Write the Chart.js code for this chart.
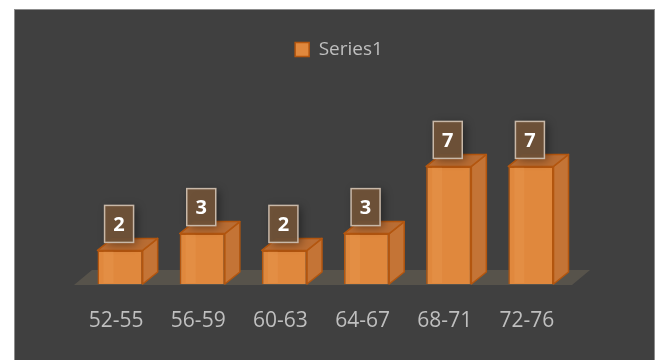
<!DOCTYPE html>
<html><head><meta charset="utf-8">
<script src="https://cdn.jsdelivr.net/npm/chart.js@4.4.1/dist/chart.umd.min.js"></script>
<style>
html,body{margin:0;padding:0;background:#fff;width:660px;height:360px;overflow:hidden;}
#bg{position:absolute;left:14px;top:9px;width:641px;height:360px;background:#404040;border:1px solid #8c8c8c;box-sizing:border-box;}
#wrap{position:absolute;left:0;top:0;width:660px;height:360px;}
</style></head><body>
<div id="bg"></div>
<div id="wrap"><canvas id="c" width="660" height="360"></canvas></div>
<script>
const categories = ['52-55','56-59','60-63','64-67','68-71','72-76'];
const seriesName = 'Series1';
const values = [2, 3, 2, 3, 7, 7];

const FONT = '"Open Sans", "DejaVu Sans", sans-serif';
const FRONT = '#e0883d';
const SIDE = '#c47436';
const TOP = '#b96d34';
const EDGE = '#b3560f';
const DX = 15, DY = 12;

const bar3d = {
  id: 'bar3d',
  beforeDatasetsDraw(chart) {
    const xs = chart.scales.x, ys = chart.scales.y;
    const base = ys.getPixelForValue(0) + 1;
    const ctx = chart.ctx;
    const fl = xs.left - 5, fr = xs.right;
    ctx.save();
    ctx.fillStyle = '#57534b';
    ctx.beginPath();
    ctx.moveTo(fl, base);
    ctx.lineTo(fr, base);
    ctx.lineTo(fr + 18, base - 15);
    ctx.lineTo(fl + 18, base - 15);
    ctx.closePath();
    ctx.fill();
    ctx.restore();
  },
  afterDatasetsDraw(chart) {
    const ctx = chart.ctx;
    const meta = chart.getDatasetMeta(0);
    const ds = chart.data.datasets[0];
    meta.data.forEach((el, i) => {
      const p = el.getProps(['x', 'y', 'base', 'width'], true);
      const l = p.x - p.width / 2, r = p.x + p.width / 2;
      ctx.save();
      ctx.lineWidth = 1.5;
      ctx.strokeStyle = EDGE;
      ctx.lineJoin = 'round';
      // side face
      ctx.fillStyle = SIDE;
      ctx.beginPath();
      ctx.moveTo(r, p.y);
      ctx.lineTo(r + DX, p.y - DY);
      ctx.lineTo(r + DX, p.base - DY);
      ctx.lineTo(r, p.base);
      ctx.closePath();
      ctx.fill();
      ctx.stroke();
      // top face
      ctx.fillStyle = TOP;
      ctx.beginPath();
      ctx.moveTo(l, p.y);
      ctx.lineTo(l + DX, p.y - DY);
      ctx.lineTo(r + DX, p.y - DY);
      ctx.lineTo(r, p.y);
      ctx.closePath();
      ctx.fill();
      ctx.stroke();
      // light stripe on front
      ctx.fillStyle = 'rgba(255,190,120,0.12)';
      ctx.fillRect(l + 6, p.y + 1, 10, p.base - p.y - 2);
      ctx.restore();

      // data label box
      const bw = 29, bh = 37;
      const bx = p.x - bw / 2 - 1, by = p.y - 8 - bh;
      ctx.save();
      ctx.shadowColor = 'rgba(0,0,0,0.45)';
      ctx.shadowBlur = 10;
      ctx.shadowOffsetX = 3;
      ctx.shadowOffsetY = 2;
      ctx.fillStyle = 'rgba(112,82,56,0.95)';
      ctx.fillRect(bx, by, bw, bh);
      ctx.restore();
      ctx.save();
      ctx.strokeStyle = '#c8b8a8';
      ctx.lineWidth = 1.5;
      ctx.strokeRect(bx, by, bw, bh);
      ctx.fillStyle = '#ffffff';
      ctx.font = 'bold 20px ' + FONT;
      ctx.textAlign = 'center';
      ctx.textBaseline = 'middle';
      ctx.fillText(String(ds.data[i]), bx + bw / 2, by + bh / 2 + 1);
      ctx.restore();
    });
  }
};

new Chart(document.getElementById('c'), {
  type: 'bar',
  data: {
    labels: categories,
    datasets: [{
      label: seriesName,
      data: values,
      backgroundColor: FRONT,
      borderColor: EDGE,
      borderWidth: 1.5,
      barPercentage: 0.55,
      categoryPercentage: 1.0
    }]
  },
  options: {
    responsive: false,
    animation: false,
    devicePixelRatio: 1,
    layout: { padding: { left: 18, right: 0, top: 30, bottom: 0 } },
    plugins: {
      legend: {
        display: true,
        position: 'top',
        labels: {
          font: { family: FONT, size: 19 },
          color: '#bfbfbf',
          boxWidth: 14,
          boxHeight: 14,
          padding: 10
        }
      },
      tooltip: { enabled: false }
    },
    scales: {
      x: {
        grid: { display: false, drawTicks: false },
        border: { display: false },
        ticks: { font: { family: FONT, size: 21 }, color: '#bfbfbf', padding: 24, labelOffset: -4, maxRotation: 0 },
        afterFit: s => { s.height = 76; }
      },
      y: {
        position: 'left',
        min: 0, max: 12.8,
        grid: { display: false, drawTicks: false },
        border: { display: false },
        ticks: { display: false },
        afterFit: s => { s.width = 61; }
      },
      yR: {
        type: 'linear',
        position: 'right',
        grid: { display: false, drawTicks: false },
        border: { display: false },
        ticks: { display: false },
        afterFit: s => { s.width = 88; }
      }
    }
  },
  plugins: [bar3d]
});
</script>
</body></html>
